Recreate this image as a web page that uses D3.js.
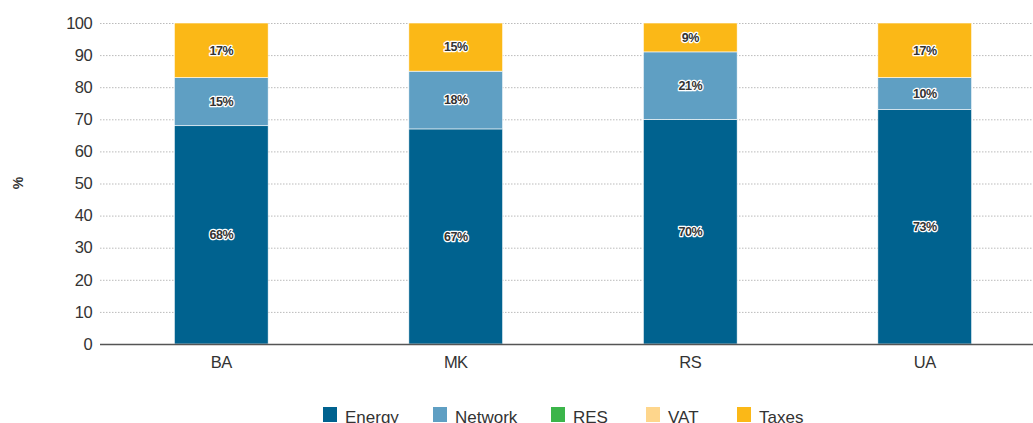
<!DOCTYPE html>
<html>
<head>
<meta charset="utf-8">
<script src="https://cdn.jsdelivr.net/npm/d3@7"></script>
<style>
    body { margin: 0; background: #fff; }
    svg { display: block; font-family: 'Liberation Sans', Arial, sans-serif; }
</style>
</head>
<body>
<svg id="chart"></svg>
<script>
// price components by country, in percent
var countries = ['BA', 'MK', 'RS', 'UA'],
    energy  = [68, 67, 70, 73],
    network = [15, 18, 21, 10],
    res     = [0, 0, 0, 0],
    vat     = [0, 0, 0, 0],
    taxes   = [17, 15, 9, 17],
    seriesNames = ['Energy', 'Network', 'RES', 'VAT', 'Taxes'],
    yTicks = [0, 10, 20, 30, 40, 50, 60, 70, 80, 90, 100];

var colors = ['#00628f', '#5f9fc3', '#3bb54a', '#fed68c', '#fbb817'];

var width = 1033, height = 423,
    margin = {top: 23, right: -9, bottom: 79, left: 104};

var svg = d3.select('#chart')
    .attr('width', width)
    .attr('height', height);

var table = countries.map(function(c, i) {
    return {country: c, Energy: energy[i], Network: network[i], RES: res[i], VAT: vat[i], Taxes: taxes[i]};
});

var stack = d3.stack().keys(seriesNames)(table);

var x = d3.scaleBand()
    .domain(countries)
    .range([margin.left, width - margin.right])
    .paddingInner(0.6)
    .paddingOuter(0.3);

var y = d3.scaleLinear()
    .domain([0, 100])
    .range([height - margin.bottom, margin.top]);

var z = d3.scaleOrdinal().domain(seriesNames).range(colors);

// gridlines
svg.append('g')
    .selectAll('line')
    .data(yTicks.filter(function(d) { return d > 0; }))
    .enter().append('line')
    .attr('x1', 100).attr('x2', width)
    .attr('y1', function(d) { return y(d) + 0.5; })
    .attr('y2', function(d) { return y(d) + 0.5; })
    .attr('stroke', '#bbb')
    .attr('stroke-dasharray', '1.5,1.5');

// y tick labels
svg.append('g')
    .selectAll('text')
    .data(yTicks)
    .enter().append('text')
    .attr('x', 92)
    .attr('y', function(d) { return y(d); })
    .attr('dy', '0.35em')
    .attr('text-anchor', 'end')
    .attr('font-size', 16.5)
    .attr('letter-spacing', '-0.6')
    .attr('fill', '#333')
    .text(function(d) { return d; });

svg.append('text')
    .attr('transform', 'translate(23,183) rotate(-90)')
    .attr('text-anchor', 'middle')
    .attr('font-size', 14)
    .attr('font-weight', 'bold')
    .attr('fill', '#333')
    .text('%');

// bars
var layers = svg.append('g')
    .selectAll('g')
    .data(stack)
    .enter().append('g')
    .attr('fill', function(d) { return z(d.key); });

layers.selectAll('rect')
    .data(function(d) { return d; })
    .enter().append('rect')
    .attr('x', function(d) { return x(d.data.country); })
    .attr('width', x.bandwidth())
    .attr('y', function(d) { return y(d[1]); })
    .attr('height', function(d) { return y(d[0]) - y(d[1]); })
    .attr('stroke', '#fff')
    .attr('stroke-width', 0.6);

// value labels
layers.selectAll('text')
    .data(function(d) { return d.filter(function(p) { return p[1] - p[0] > 0; }); })
    .enter().append('text')
    .attr('x', function(d) { return x(d.data.country) + x.bandwidth() / 2; })
    .attr('y', function(d) { return y((d[0] + d[1]) / 2); })
    .attr('dy', '0.35em')
    .attr('text-anchor', 'middle')
    .attr('font-size', 12.5)
    .attr('font-weight', 'bold')
    .attr('letter-spacing', '-0.5')
    .attr('fill', '#333')
    .attr('stroke', '#fff')
    .attr('stroke-width', 2.5)
    .attr('stroke-linejoin', 'round')
    .attr('paint-order', 'stroke')
    .text(function(d) { return Math.round(d[1] - d[0]) + '%'; });

// baseline
svg.append('line')
    .attr('x1', 100).attr('x2', width)
    .attr('y1', y(0) + 0.5).attr('y2', y(0) + 0.5)
    .attr('stroke', '#555')
    .attr('stroke-width', 1.5);

// x labels
svg.append('g')
    .selectAll('text')
    .data(countries)
    .enter().append('text')
    .attr('x', function(d) { return x(d) + x.bandwidth() / 2; })
    .attr('y', 362)
    .attr('dy', '0.35em')
    .attr('text-anchor', 'middle')
    .attr('font-size', 16.5)
    .attr('letter-spacing', '-0.5')
    .attr('fill', '#333')
    .text(function(d) { return d; });

// legend
var legendX = [323, 433, 551, 646, 737];
var legend = svg.append('g')
    .selectAll('g')
    .data(seriesNames)
    .enter().append('g')
    .attr('transform', function(d, i) { return 'translate(' + legendX[i] + ',407)'; });

legend.append('rect')
    .attr('width', 14).attr('height', 15)
    .attr('fill', function(d) { return z(d); });

legend.append('text')
    .attr('x', 22)
    .attr('y', 16)
    .attr('font-size', 17)
    .attr('fill', '#333')
    .text(function(d) { return d; });
</script>
</body>
</html>
